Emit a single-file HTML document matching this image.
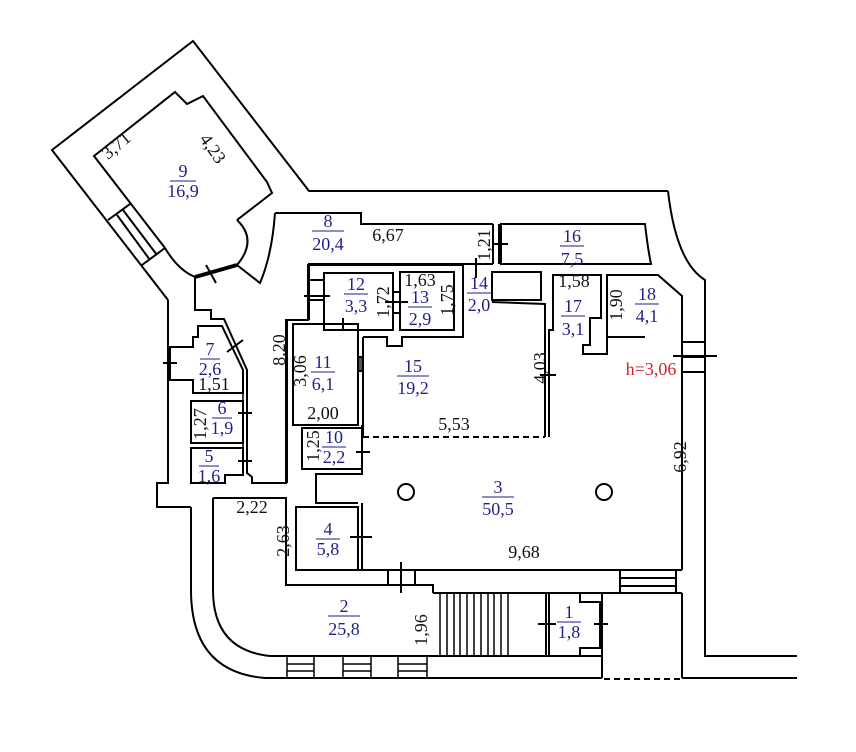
<!DOCTYPE html>
<html><head><meta charset="utf-8"><style>
body{margin:0;background:#fff}
svg{display:block}
text{font-family:"Liberation Serif",serif;font-size:18px}
.b{fill:#1e1e8c}
.k{fill:#111}
</style></head><body>
<svg width="856" height="752" viewBox="0 0 856 752" xmlns="http://www.w3.org/2000/svg">
<g fill="none" stroke="#000" stroke-width="2">
<polyline points="168,300 52,150 193,41 309,191 668,191"/>
<path d="M668,191 Q676,262 705,280 L705,656 L797,656"/>
<polyline points="165,248 94,156 175,92 187,104 203,96 267,182 272,193 237,220"/>
<path d="M237,220 Q258,240 237,265"/>
<path d="M165,248 Q178,270 195,277"/>
<line x1="195" y1="277" x2="237" y2="265" stroke-width="4"/>
<line x1="206" y1="265" x2="216" y2="283"/>
<path d="M237,265 L260,283 Q272,255 275,213"/>
<line x1="108" y1="220" x2="130" y2="204"/>
<line x1="142" y1="265" x2="165" y2="248"/>
<line x1="117" y1="215" x2="150" y2="260"/>
<line x1="123" y1="210" x2="157" y2="255"/>
<polyline points="275,213 361,213 361,224 493,224"/>
<polyline points="309,320 309,264 493,264"/>
<polyline points="195,277 195,310 211,310 211,319 224,319 247,370 247,473 252,477 252,483 286,483 286,320 309,320"/>
<line x1="243" y1="370" x2="243" y2="473" stroke-width="1.5"/>
<polyline points="168,300 168,483 157,483 157,507 191,507"/>
<path d="M191,507 L191,590 Q191,672 265,678 L602,678"/>
<path d="M213,498 L213,590 Q213,650 270,656 L433,656"/>
<polyline points="213,498 286,498 286,585 433,585 433,593"/>
<g stroke-width="1.5">
<rect x="287" y="656" width="27" height="22"/><line x1="287" y1="664" x2="314" y2="664"/><line x1="287" y1="671" x2="314" y2="671"/>
<rect x="343" y="656" width="28" height="22"/><line x1="343" y1="664" x2="371" y2="664"/><line x1="343" y1="671" x2="371" y2="671"/>
<rect x="398" y="656" width="29" height="22"/><line x1="398" y1="664" x2="427" y2="664"/><line x1="398" y1="671" x2="427" y2="671"/>
</g>
<polygon points="198,326 222,326 243,370 243,393 193,393 193,380 170,380 170,347 193,347 193,337 198,337"/>
<line x1="163" y1="363" x2="177" y2="363"/>
<line x1="227" y1="352" x2="243" y2="340"/>
<rect x="191" y="401" width="52" height="42"/>
<line x1="238" y1="413" x2="252" y2="413"/>
<polygon points="191,448 243,448 243,475 225,475 225,483 191,483"/>
<line x1="238" y1="461" x2="252" y2="461"/>
<polyline points="308,320 308,265 463,265 463,337 402,337 402,346 387,346 387,337 363,337"/>
<rect x="324" y="273" width="69" height="57"/>
<rect x="400" y="272" width="54" height="58"/>
<line x1="308" y1="280" x2="324" y2="280"/><line x1="308" y1="300" x2="324" y2="300"/>
<line x1="304" y1="296" x2="330" y2="296"/>
<line x1="343" y1="318" x2="343" y2="330"/>
<line x1="385" y1="302" x2="408" y2="302"/>
<line x1="393" y1="292" x2="400" y2="292"/><line x1="393" y1="313" x2="400" y2="313"/>
<polyline points="287,320 287,483"/>
<rect x="293" y="324" width="65" height="101"/>
<polyline points="363,337 363,437"/>
<rect x="358" y="357" width="5" height="14" fill="#555"/>
<rect x="302" y="428" width="60" height="41"/>
<polyline points="362,425 362,474 316,474 316,503 358,503"/>
<line x1="356" y1="452" x2="370" y2="452"/>
<line x1="363" y1="437" x2="545" y2="437" stroke-dasharray="6,4"/>
<rect x="296" y="507" width="62" height="63"/>
<line x1="362" y1="503" x2="362" y2="570"/>
<line x1="350" y1="537" x2="372" y2="537"/>
<rect x="492" y="272" width="49" height="28"/>
<polyline points="492,302 545,304 545,437"/>
<polyline points="549,437 549,330 553,330 553,275 601,275 601,318 590,318 590,345 583,345 583,354 607,354 607,275 658,275 682,296 682,570"/>
<line x1="540" y1="375" x2="556" y2="375"/>
<line x1="607" y1="337" x2="645" y2="337"/>
<line x1="493" y1="224" x2="493" y2="264"/><line x1="499" y1="224" x2="499" y2="264"/>
<line x1="493" y1="244" x2="508" y2="244"/>
<line x1="476" y1="258" x2="476" y2="278"/>
<path d="M501,224 L645,224 Q648,250 651,264 L501,264 Z"/>
<line x1="682" y1="342" x2="705" y2="342"/><line x1="682" y1="357" x2="705" y2="357"/><line x1="682" y1="372" x2="705" y2="372"/>
<line x1="673" y1="356" x2="717" y2="356"/>
<polyline points="358,570 682,570"/>
<line x1="380" y1="585" x2="433" y2="585"/>
<line x1="388" y1="570" x2="388" y2="585"/><line x1="415" y1="570" x2="415" y2="585"/>
<line x1="401" y1="562" x2="401" y2="593"/>
<rect x="620" y="570" width="56" height="23"/>
<line x1="620" y1="578" x2="676" y2="578"/><line x1="620" y1="586" x2="676" y2="586"/>
<polyline points="433,593 602,593"/>
<line x1="602" y1="593" x2="682" y2="593"/>
<polyline points="602,593 602,678"/>
<line x1="682" y1="593" x2="682" y2="678"/>
<line x1="433" y1="656" x2="602" y2="656"/>
<g stroke-width="1.5">
<line x1="440" y1="593" x2="440" y2="656"/><line x1="447" y1="593" x2="447" y2="656"/><line x1="454" y1="593" x2="454" y2="656"/><line x1="460" y1="593" x2="460" y2="656"/><line x1="467" y1="593" x2="467" y2="656"/><line x1="474" y1="593" x2="474" y2="656"/><line x1="481" y1="593" x2="481" y2="656"/><line x1="488" y1="593" x2="488" y2="656"/><line x1="494" y1="593" x2="494" y2="656"/><line x1="501" y1="593" x2="501" y2="656"/><line x1="508" y1="593" x2="508" y2="656"/>
</g>
<line x1="546" y1="593" x2="546" y2="656"/><line x1="549" y1="593" x2="549" y2="656"/>
<polyline points="580,593 580,602 601,602 601,648 580,648 580,656"/>
<line x1="601" y1="602" x2="601" y2="648" stroke-width="4"/>
<line x1="538" y1="624" x2="556" y2="624"/><line x1="594" y1="624" x2="608" y2="624"/>
<line x1="604" y1="679" x2="682" y2="679" stroke-dasharray="6,4"/>
<line x1="682" y1="678" x2="797" y2="678"/>
<circle cx="406" cy="492" r="8"/><circle cx="604" cy="492" r="8"/>
</g>
<g text-anchor="middle">
<g class="b">
<text x="183" y="177">9</text><text x="183" y="197">16,9</text>
<text x="328" y="227">8</text><text x="328" y="250">20,4</text>
<text x="572" y="242">16</text><text x="572" y="265">7,5</text>
<text x="356" y="290">12</text><text x="356" y="312">3,3</text>
<text x="420" y="303">13</text><text x="420" y="325">2,9</text>
<text x="479" y="289">14</text><text x="479" y="311">2,0</text>
<text x="573" y="312">17</text><text x="573" y="335">3,1</text>
<text x="647" y="300">18</text><text x="647" y="322">4,1</text>
<text x="413" y="372">15</text><text x="413" y="394">19,2</text>
<text x="323" y="368">11</text><text x="323" y="390">6,1</text>
<text x="210" y="355">7</text><text x="210" y="375">2,6</text>
<text x="222" y="414">6</text><text x="222" y="434">1,9</text>
<text x="209" y="462">5</text><text x="209" y="482">1,6</text>
<text x="334" y="443">10</text><text x="334" y="463">2,2</text>
<text x="498" y="493">3</text><text x="498" y="515">50,5</text>
<text x="328" y="535">4</text><text x="328" y="555">5,8</text>
<text x="344" y="612">2</text><text x="344" y="635">25,8</text>
<text x="569" y="618">1</text><text x="569" y="638">1,8</text>
</g>
<g stroke="#1e1e8c" stroke-width="1">
<line x1="170" y1="181" x2="196" y2="181"/><line x1="312" y1="231" x2="344" y2="231"/><line x1="560" y1="246" x2="584" y2="246"/>
<line x1="344" y1="294" x2="368" y2="294"/><line x1="408" y1="307" x2="432" y2="307"/><line x1="467" y1="293" x2="491" y2="293"/>
<line x1="561" y1="316" x2="585" y2="316"/><line x1="635" y1="304" x2="659" y2="304"/><line x1="397" y1="376" x2="429" y2="376"/>
<line x1="311" y1="372" x2="335" y2="372"/><line x1="200" y1="359" x2="220" y2="359"/><line x1="212" y1="418" x2="232" y2="418"/>
<line x1="199" y1="466" x2="219" y2="466"/><line x1="322" y1="447" x2="346" y2="447"/><line x1="482" y1="497" x2="514" y2="497"/>
<line x1="316" y1="539" x2="340" y2="539"/><line x1="328" y1="616" x2="360" y2="616"/><line x1="557" y1="622" x2="581" y2="622"/>
</g>
<g class="k">
<text x="388" y="241">6,67</text>
<text x="420" y="286">1,63</text>
<text x="574" y="287">1,58</text>
<text x="454" y="430">5,53</text>
<text x="323" y="419">2,00</text>
<text x="214" y="390">1,51</text>
<text x="252" y="513">2,22</text>
<text x="524" y="558">9,68</text>
<text transform="translate(120,150) rotate(-40)">3,71</text>
<text transform="translate(208,152) rotate(55)">4,23</text>
<text transform="translate(490,245) rotate(-90)">1,21</text>
<text transform="translate(389,302) rotate(-90)">1,72</text>
<text transform="translate(453,300) rotate(-90)">1,75</text>
<text transform="translate(622,305) rotate(-90)">1,90</text>
<text transform="translate(546,368) rotate(-90)">4,03</text>
<text transform="translate(306,371) rotate(-90)">3,06</text>
<text transform="translate(285,350) rotate(-90)">8,20</text>
<text transform="translate(206,424) rotate(-90)">1,27</text>
<text transform="translate(319,446) rotate(-90)">1,25</text>
<text transform="translate(686,457) rotate(-90)">6,92</text>
<text transform="translate(289,541) rotate(-90)">2,63</text>
<text transform="translate(427,630) rotate(-90)">1,96</text>
</g>
<text x="651" y="375" fill="#c8282d">h=3,06</text>
</g>
</svg>
</body></html>
